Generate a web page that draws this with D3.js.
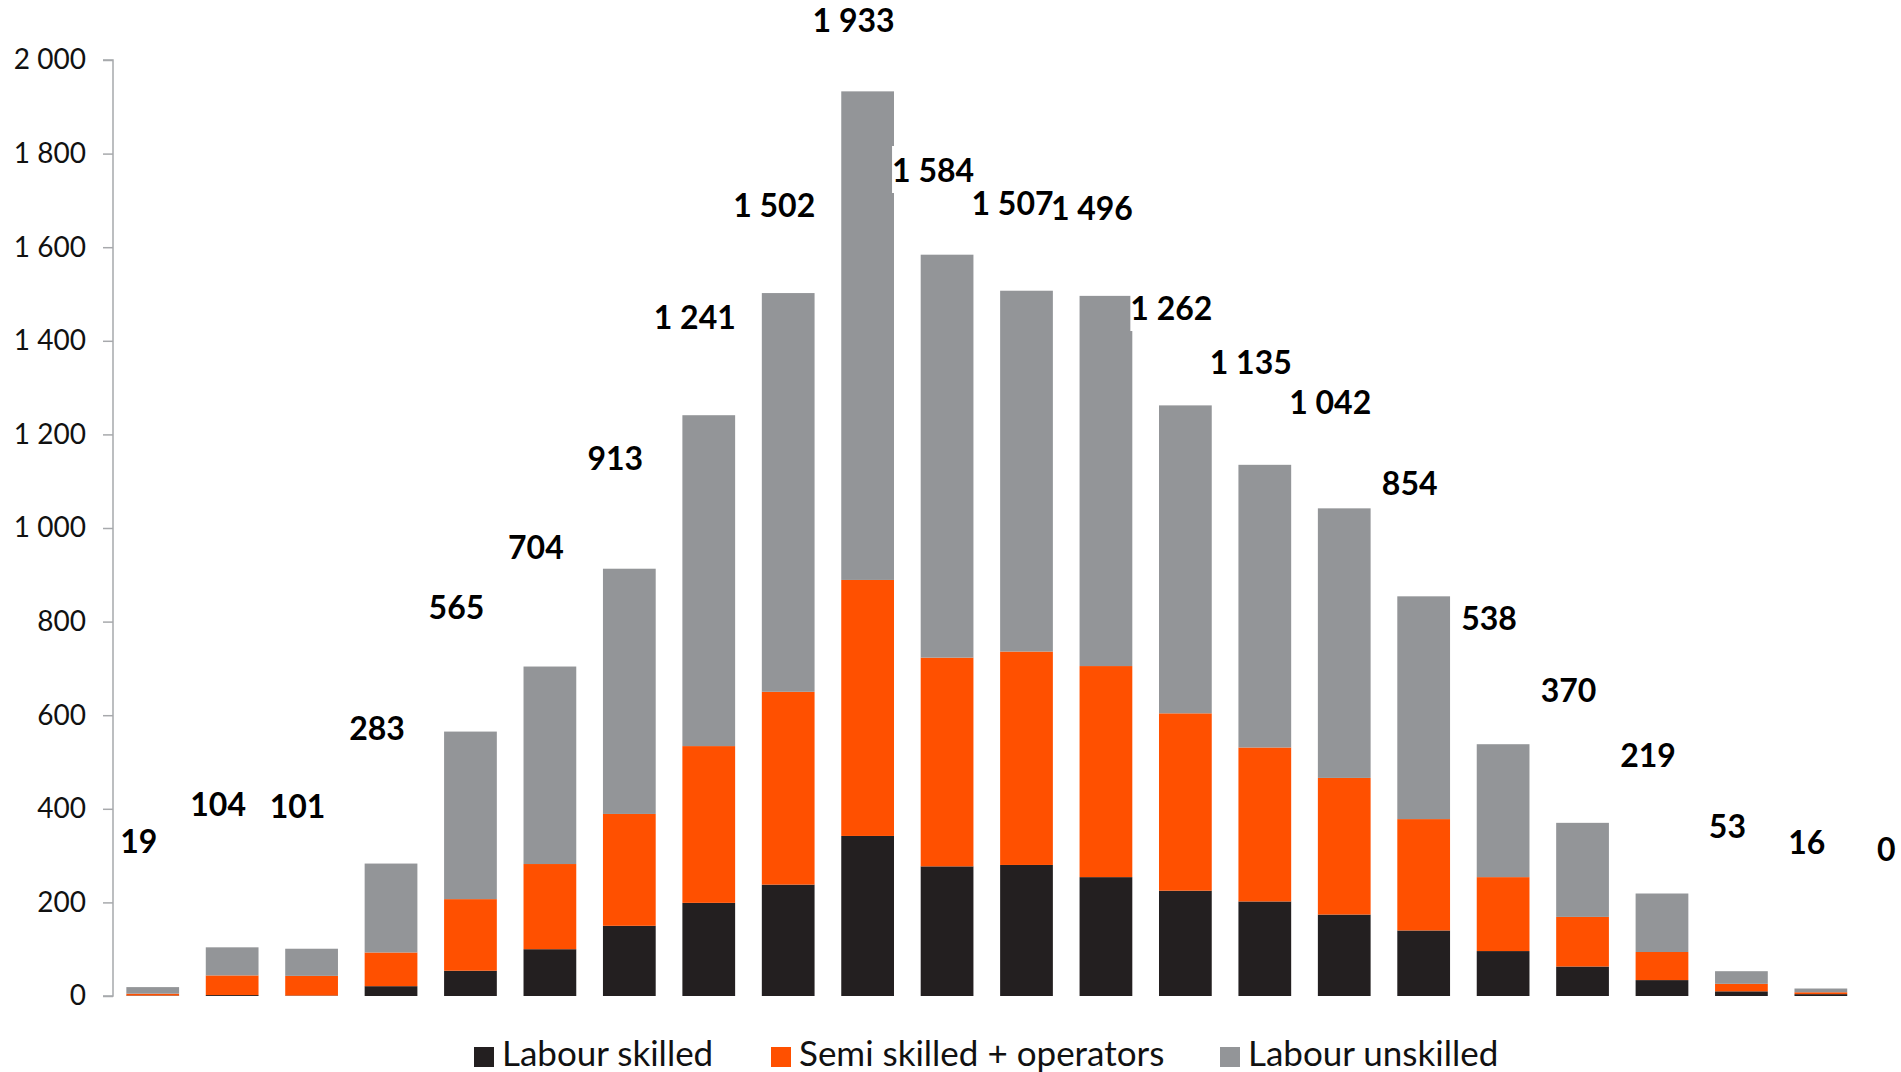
<!DOCTYPE html>
<html lang="en">
<head>
<meta charset="utf-8">
<title></title>
<script src="https://d3js.org/d3.v7.min.js"></script>
<style type="text/css">
body { margin: 0; background: #fff; }
text { font-family: Lato, "Open Sans", sans-serif; }
.axis path, .axis line { stroke: #a7a9ac; stroke-width: 1.5px; }
.axis text { font-size: 28px; fill: #111; }
.total { font-size: 32px; font-weight: bold; fill: #000; }
.legend text { font-size: 35px; fill: #111; }
</style>
</head>
<body>
<svg width="1901" height="1072"></svg>
<script>

// no category names are shown on the x axis, so bars are simply numbered
var categories = d3.range(1, 24).map(String);

var skilled   = [1, 2, 1, 21, 54, 100, 150, 199, 238, 342, 277, 280, 254, 225, 202, 174, 140, 96, 63, 34, 10, 4, 0];
var semi      = [4, 42, 42, 72, 153, 182, 239, 335, 412, 547, 446, 456, 451, 379, 329, 292, 238, 158, 106, 60, 16, 4, 0];
var unskilled = [14, 60, 58, 190, 358, 422, 524, 707, 852, 1044, 861, 771, 791, 658, 604, 576, 476, 284, 201, 125, 27, 8, 0];
var totals    = [19, 104, 101, 283, 565, 704, 913, 1241, 1502, 1933, 1584, 1507, 1496, 1262, 1135, 1042, 854, 538, 370, 219, 53, 16, 0];

var seriesNames = ["Labour skilled", "Semi skilled + operators", "Labour unskilled"];
var yTicks = [0, 200, 400, 600, 800, 1000, 1200, 1400, 1600, 1800, 2000];

var colors = ["#231f20", "#ff5000", "#939598"];
var keys = ["skilled", "semi", "unskilled"];

var svg = d3.select("svg");

var data = categories.map(function(c, i) {
  return {cat: c, skilled: skilled[i], semi: semi[i], unskilled: unskilled[i], total: totals[i]};
});

var x = d3.scaleBand()
    .domain(categories)
    .range([113, 1940])
    .paddingInner(0.336)
    .paddingOuter(0.168);

var y = d3.scaleLinear()
    .domain([0, 2000])
    .range([996, 60]);

// totals sit on their own (secondary) scale, as in the original
var yLabel = d3.scaleLinear()
    .domain([0, 2000])
    .range([y(313), y(313 + 0.916 * 2000)]);

var fmt = function(v) { return d3.format(",")(v).replace(/,/g, " "); };

svg.append("g")
    .attr("class", "axis")
    .attr("transform", "translate(113,0)")
    .call(d3.axisLeft(y).tickValues(yTicks).tickSize(10).tickPadding(17).tickFormat(fmt))
    .call(g => g.select(".domain").attr("d", "M-10," + y(2000) + "H0V" + y(0) + "H-10"));

var stack = d3.stack().keys(keys)(data);

svg.append("g").selectAll("g")
  .data(stack)
  .join("g")
    .attr("fill", (d, i) => colors[i])
  .selectAll("rect")
  .data(d => d)
  .join("rect")
    .attr("x", d => x(d.data.cat))
    .attr("y", d => y(d[1]))
    .attr("width", x.bandwidth())
    .attr("height", d => y(d[0]) - y(d[1]));

// total labels with white boxes behind them (boxes first so no text gets clipped)
var boxes = svg.append("g");
var texts = svg.append("g").selectAll("text")
  .data(data)
  .join("text")
    .attr("class", "total")
    .attr("x", d => x(d.cat) + x.bandwidth() / 2 - 14)
    .attr("y", d => yLabel(d.total))
    .attr("dy", "0.36em")
    .attr("text-anchor", "middle")
    .text(d => fmt(d.total));

texts.each(function() {
  var b = this.getBBox();
  boxes.append("rect")
      .attr("fill", "#fff")
      .attr("x", b.x).attr("y", b.y - 4)
      .attr("width", b.width).attr("height", b.height + 8);
});

// legend
var legendX = [474, 771, 1220];
var legend = svg.append("g").attr("class", "legend");
seriesNames.forEach(function(name, i) {
  legend.append("rect")
      .attr("x", legendX[i]).attr("y", 1047)
      .attr("width", 20).attr("height", 20)
      .attr("fill", colors[i]);
  legend.append("text")
      .attr("x", legendX[i] + 28).attr("y", 1066)
      .text(name);
});

</script>
</body>
</html>
